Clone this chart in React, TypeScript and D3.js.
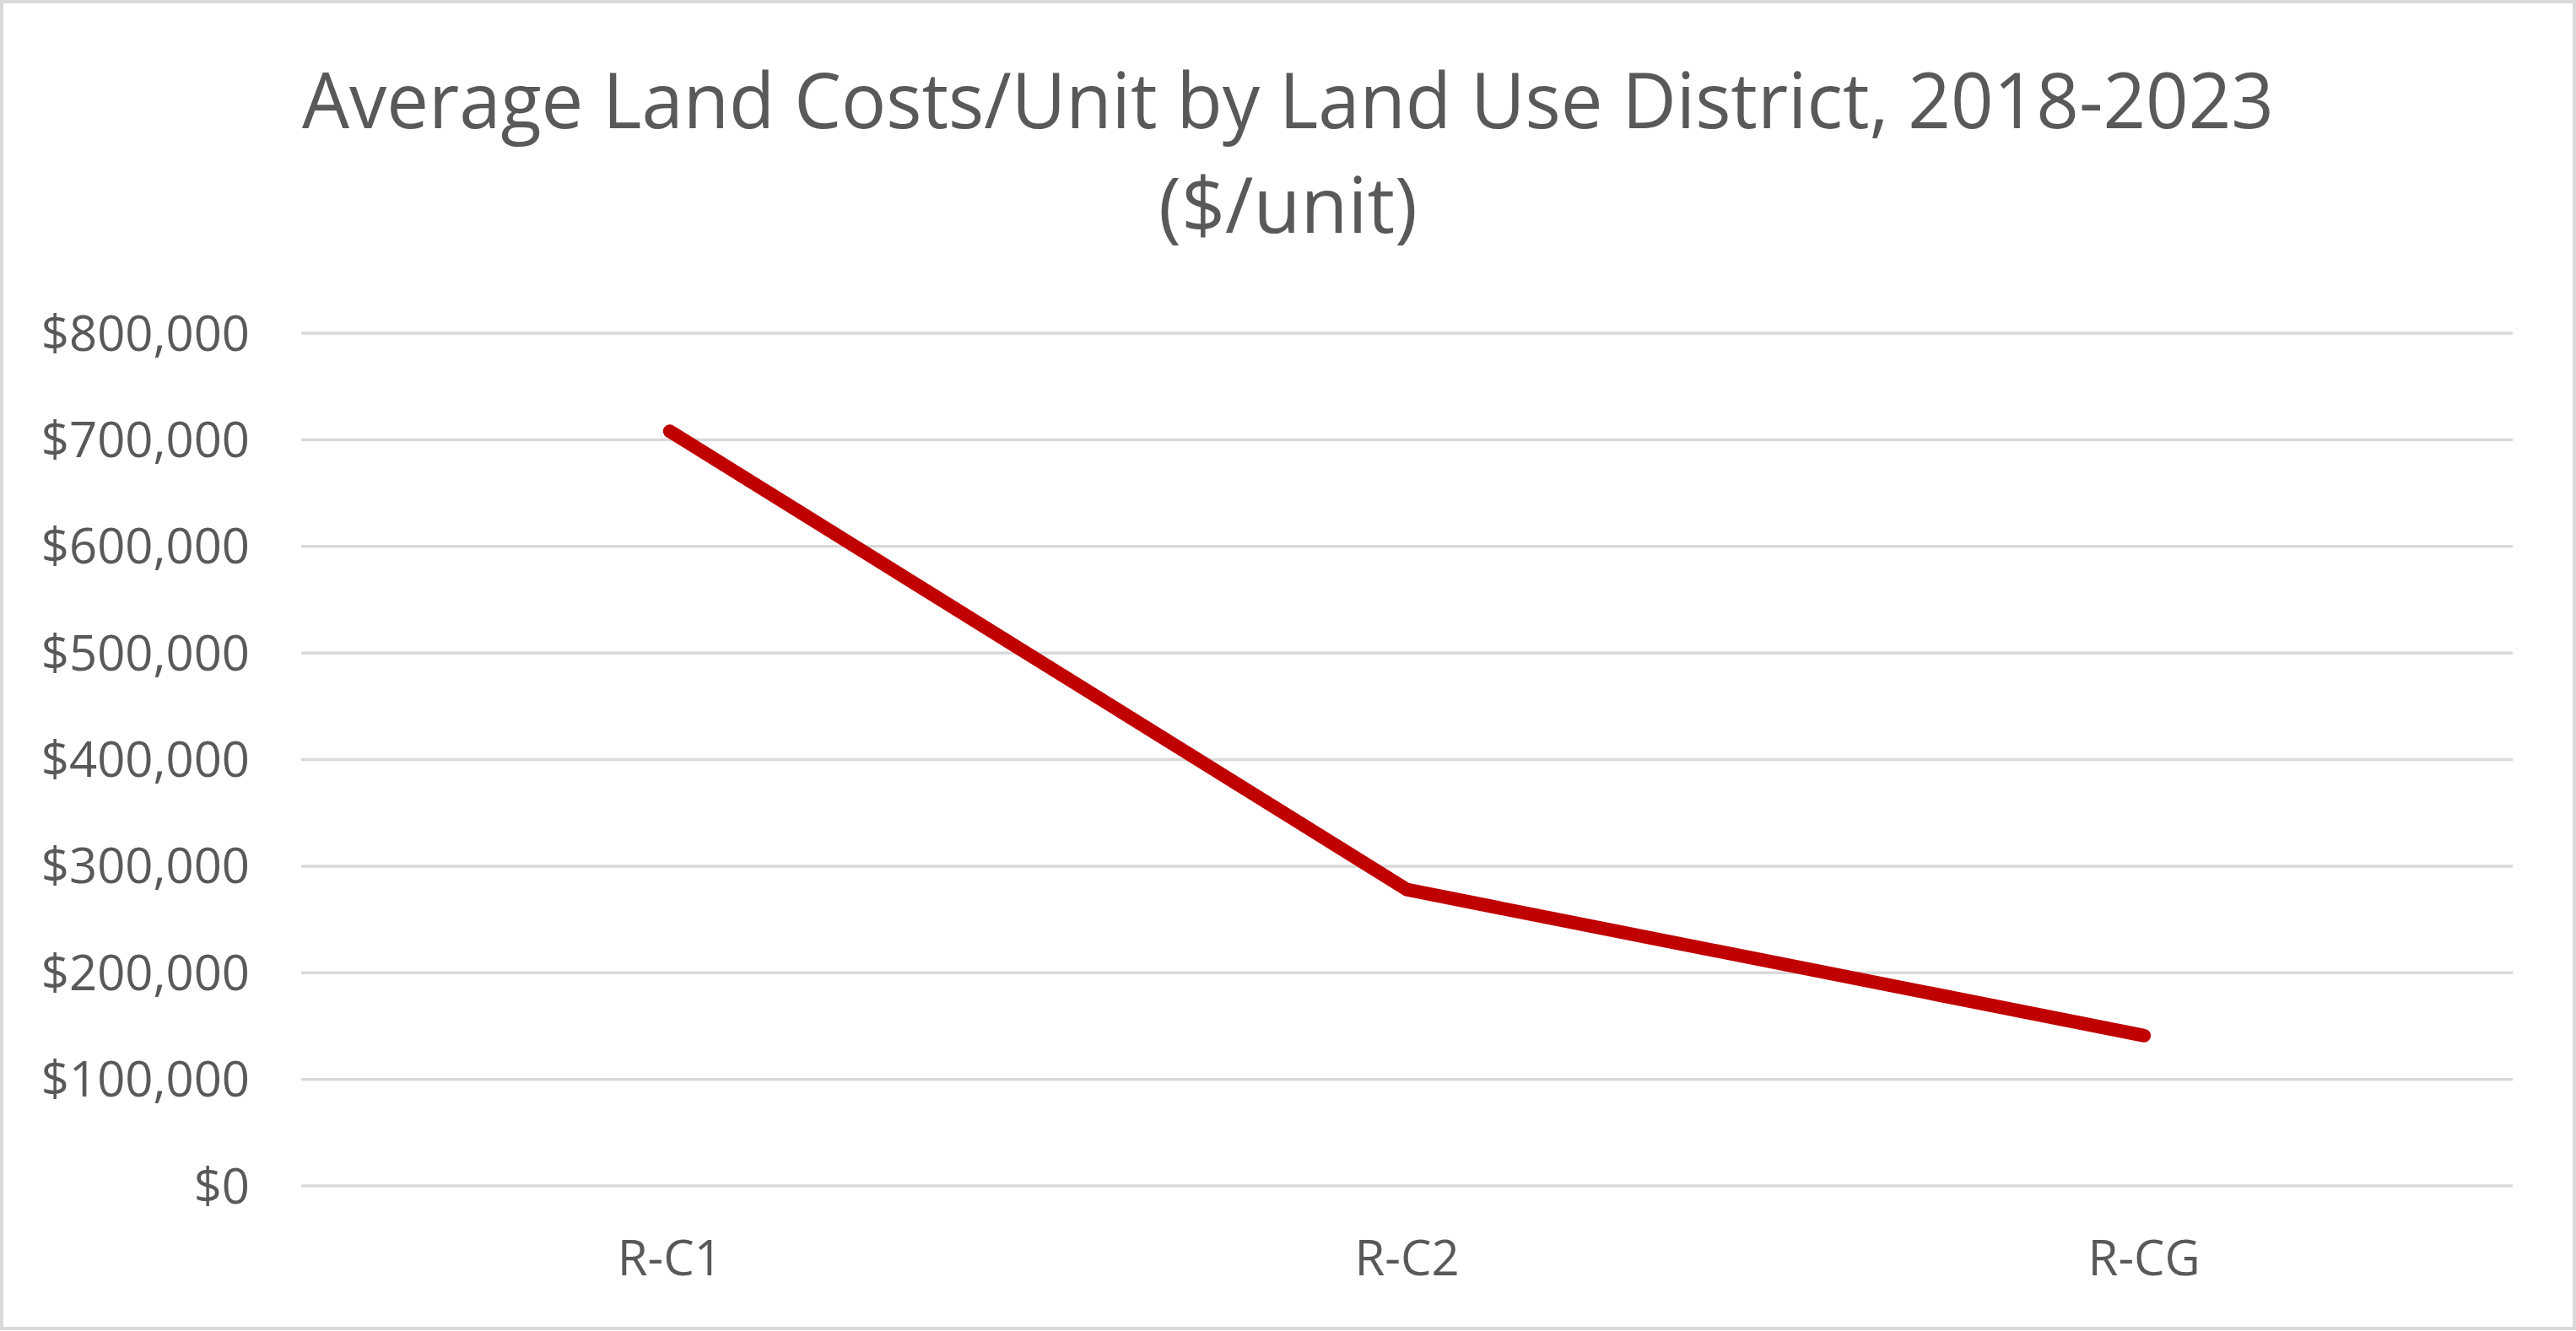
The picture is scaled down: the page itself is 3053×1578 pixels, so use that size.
import React, { useEffect } from "react";
import * as d3 from "d3";

const categories: string[] = ["R-C1", "R-C2", "R-CG"];
const values: number[] = [708000, 278000, 141000];
const yTicks: number[] = [0, 100000, 200000, 300000, 400000, 500000, 600000, 700000, 800000];
const titleLines: string[] = ["Average Land Costs/Unit by Land Use District, 2018-2023", "($/unit)"];

const W = 3053;
const H = 1578;
const plotLeft = 357;
const plotRight = 2978;
const plotTop = 395;
const plotBottom = 1406;
const textColor = "#595959";
const font = "'Open Sans', sans-serif";

export default function App() {
  useEffect(() => {
    document.body.style.margin = "0";
  }, []);

  const x = d3.scalePoint<string>().domain(categories).range([plotLeft, plotRight]).padding(0.5);
  const y = d3.scaleLinear().domain([0, 800000]).range([plotBottom, plotTop]);
  const fmt = (v: number) => "$" + d3.format(",")(v);

  const line = d3
    .line<number>()
    .x((_, i) => x(categories[i]) as number)
    .y((d) => y(d));

  const titleLengths = [2337, 307];
  const titleBaselines = [152, 276];

  return (
    <svg width={W} height={H} style={{ position: "absolute", left: 0, top: 0, background: "#fff" }}>
      <rect x={0} y={0} width={W} height={H} fill="#ffffff" />
      <rect x={2} y={2} width={W - 4} height={H - 5} fill="none" stroke="#d9d9d9" strokeWidth={4} />
      {titleLines.map((t, i) => (
        <text
          key={t}
          x={W / 2}
          y={titleBaselines[i]}
          textAnchor="middle"
          fontFamily={font}
          fontSize={91}
          fill={textColor}
          textLength={titleLengths[i]}
          lengthAdjust="spacingAndGlyphs"
        >
          {t}
        </text>
      ))}
      {yTicks.map((t) => (
        <g key={t}>
          <line x1={plotLeft} x2={plotRight} y1={y(t)} y2={y(t)} stroke="#d9d9d9" strokeWidth={3.5} />
          <text
            x={296}
            y={y(t) + 20.5}
            textAnchor="end"
            fontFamily={font}
            fontSize={58}
            fill={textColor}
          >
            {fmt(t)}
          </text>
        </g>
      ))}
      {categories.map((c) => (
        <text
          key={c}
          x={x(c) as number}
          y={1512}
          textAnchor="middle"
          fontFamily={font}
          fontSize={58}
          fill={textColor}
        >
          {c}
        </text>
      ))}
      <path
        d={line(values) || ""}
        fill="none"
        stroke="#c00000"
        strokeWidth={16}
        strokeLinecap="round"
        strokeLinejoin="round"
      />
    </svg>
  );
}
